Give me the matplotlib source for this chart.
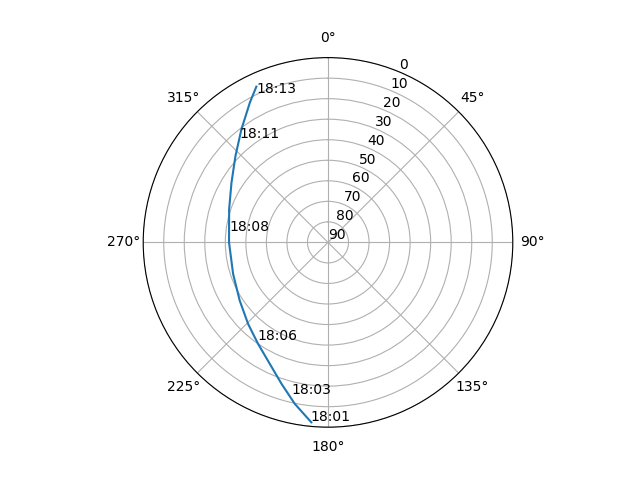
import numpy as np
import matplotlib
matplotlib.use("Agg")
import matplotlib.pyplot as plt

# Track of the pass (azimuth deg, elevation deg)
track_az = [185.3, 191.6, 198.2, 205.6, 214.6, 224.4, 236.6, 251.6, 270.0, 288.6, 301.8, 313.1, 322.6, 330.8, 335.3]
track_el = [2.0, 9.7, 17.5, 24.4, 30.0, 34.4, 38.5, 41.3, 41.8, 39.2, 34.7, 28.3, 20.6, 12.0, 6.5]

# Time labels
label_times = ["18:01", "18:03", "18:06", "18:08", "18:11", "18:13"]
label_az = [185.5, 193.6, 216.0, 276.4, 319.8, 334.4]
label_el = [2.4, 14.1, 31.3, 41.9, 23.3, 9.4]

radial_ticks = list(range(0, 91, 10))

fig = plt.figure(figsize=(6.4, 4.8), dpi=100)
ax = fig.add_subplot(projection="polar")
ax.set_theta_zero_location("N")
ax.set_theta_direction(-1)
ax.plot(np.radians(track_az), track_el)
for t, a, e in zip(label_times, label_az, label_el):
    ax.text(np.radians(a), e, t)
ax.set_rlim(90, 0)
ax.set_yticks(radial_ticks)
fig.savefig("out.png", dpi=100)
